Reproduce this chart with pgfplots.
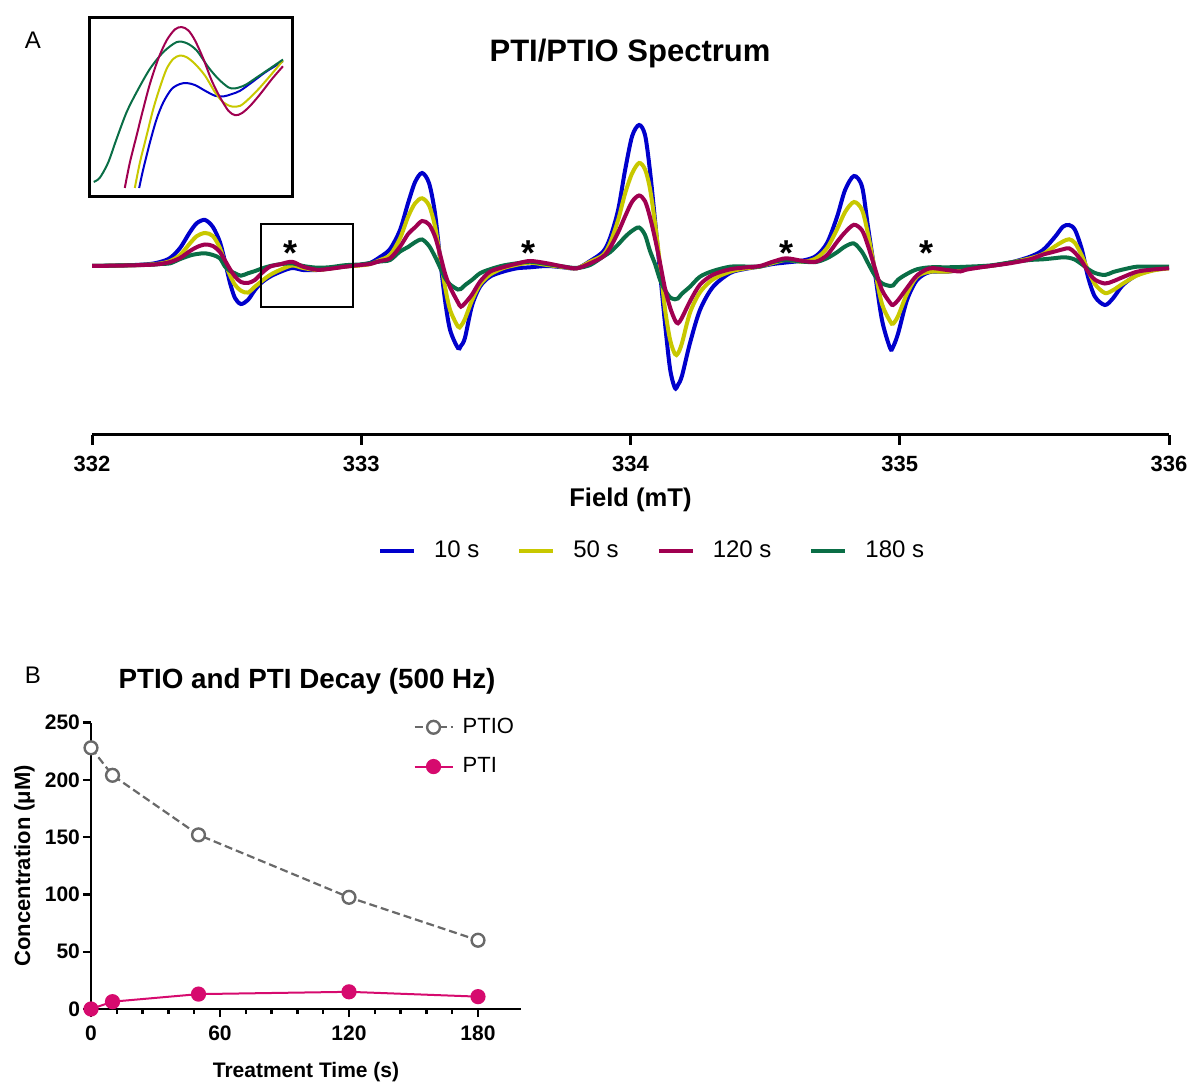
\documentclass[border=0pt]{standalone}
\usepackage{pgfplots}
\pgfplotsset{compat=1.18}
\usepackage{pgfplotstable}
\usepackage{fontspec}
\setmainfont{Liberation Sans}

\definecolor{c10}{RGB}{0,0,204}
\definecolor{c50}{RGB}{200,200,0}
\definecolor{c120}{RGB}{160,0,80}
\definecolor{c180}{RGB}{10,110,70}
\definecolor{ptio}{RGB}{105,105,105}
\definecolor{pti}{RGB}{214,10,110}

% field (mT) and signal (arb. units) for the four treatment times
\pgfplotstableread{
F       B      Yel    R      G
332.000 0      0      0      0
332.141 0.8    0.7    0.6    0.8
332.215 2      1.5    1.2    1.2
332.253 4      2.5    2      2
332.290 8      5      4      2.7
332.327 18     11     8      6.9
332.364 34     22.7   15     10.5
332.390 43     30     19     12
332.420 46     33     21.5   12.7
332.449 39     30     20     11
332.475 24     18     14     7.7
332.494 4.3    3      5.5    -0.6
332.513 -17.3  -9.5   -3.3   -5
332.531 -32    -18.8  -10.5  -7.3
332.553 -38    -24.7  -16    -9.7
332.579 -34    -26.6  -17    -7.3
332.605 -24    -20.7  -14    -5.1
332.631 -16.3  -15    -7     -2.5
332.661 -10.7  -9     -0.7   -0.1
332.698 -6     -4     1.7    1.7
332.743 -2     0.5    4.2    2.7
332.784 -4     -2     -0.7   0
332.836 -4     -4     -3.8   -1.7
332.884 -2.3   -2.5   -2.8   -1.2
332.940 -0.5   -0.5   -0.7   0.8
332.995 1      0.5    1      1.5
333.033 3      2      2      3
333.070 9      6      5      4.5
333.107 17     11     7.7    6
333.144 36     27.7   19.3   14.5
333.174 63     49.3   32     19
333.200 84     62.7   38.7   23.8
333.226 93     67.7   45     26.5
333.252 82.7   60.4   41.5   20
333.274 52.7   39.5   29.3   9.3
333.292 9.3    10.5   12.5   -1
333.311 -34    -20.5  -7.3   -12
333.330 -64    -44    -21.3  -18.5
333.359 -82    -60.5  -36.3  -23.5
333.370 -80    -60    -40.7  -23
333.385 -72    -53    -37.3  -19.2
333.411 -40    -34.7  -28.7  -14
333.441 -20.7  -18.7  -15.7  -7.3
333.478 -10.7  -8.7   -5.7   -3.3
333.526 -5.7   -2.3   -1.3   0.4
333.578 -2.3   1.2    2.4    2.7
333.627 -1.3   3.3    5      4.3
333.690 0      1      2.7    2
333.749 -1.3   -1     -0.5   -0.5
333.801 -2.3   -2.3   -2.3   -2
333.850 5      4.3    2.7    1
333.898 14.3   11     9.3    9.3
333.924 28     22.7   18.2   13.8
333.954 56     46     33.6   21.5
333.980 96     72.6   49.7   29.2
334.006 129.8  92.7   64.3   35.2
334.032 141    103    70.5   38.5
334.054 131    96.6   64.8   31
334.072 96     77.8   49.3   15.4
334.091 46     43     27.5   2.1
334.110 -7     0.7    2.7    -14
334.128 -57    -42.6  -22.3  -24
334.147 -103   -73.8  -41.5  -31.4
334.165 -122   -88    -54    -33.3
334.176 -119   -87.5  -57.3  -32.5
334.191 -110   -77.3  -51.8  -27.7
334.221 -77    -46.7  -35.3  -20.7
334.258 -44    -26.3  -18.7  -10.7
334.306 -21    -13.4  -8.8   -5
334.370 -7     -5.7   -3.3   -0.7
334.425 -3     -2.5   -1.5   -0.5
334.481 -0.5   -0.5   0      -0.5
334.529 2      3      4.3    4
334.578 3.5    6      7.7    6
334.641 5.5    4.3    5      4.3
334.689 10     7.7    4.3    4
334.730 23     18     11     7.8
334.767 49     36.7   24     13.7
334.797 76     54     33.7   19.5
334.830 90     64     41.2   22.5
334.860 79.3   56     35.6   14
334.882 39.3   32     20.3   3
334.908 -7.3   -4.6   -2.4   -9.7
334.934 -54    -38    -24    -17.3
334.964 -82    -55.2  -36.7  -20
334.975 -81    -57.7  -39    -19.5
334.994 -67.3  -49.9  -34.1  -13.6
335.027 -34    -27.6  -21.9  -7.9
335.064 -14    -10.7  -9.4   -3.3
335.112 -6     -5.7   -2.3   -1.3
335.175 -5.7   -5.7   -4     -1.3
335.224 -4     -4     -5.5   -1
335.250 -2.3   -2.3   -3.5   -0.7
335.335 0      0      0      0.5
335.409 3.3    3.3    2.7    3.5
335.484 9.3    7.7    6.7    6
335.532 16     12     11.4   6.7
335.577 29.3   19.8   14.6   7.9
335.606 39.3   24.5   16.7   8.7
335.629 41     26.7   17.7   8.2
335.651 36     23     13.2   6.3
335.677 16     10     4.4    1.6
335.699 -10.7  -4     -5.5   -3
335.725 -30.7  -18.2  -13.7  -7
335.762 -39    -27    -17.5  -9
335.792 -32.3  -24.2  -15.3  -6.1
335.829 -19    -17.6  -11.1  -3.5
335.881 -9     -9.5   -5.7   -0.7
335.941 -4     -4.5   -3.5   -0.7
336.000 -1.7   -2.3   -2.3   -0.7
}\spectrum

\pgfplotstableread{
t   ptio  pti
0   228   0
10  204   6.4
50  152   13
120 97.5  15
180 60    10.8
}\decay

\begin{document}
\begin{tikzpicture}
\path[use as bounding box] (0,0) rectangle (597pt,541.5pt);

% ---------------- panel A: spectrum
\begin{axis}[
  at={(46pt,324pt)}, anchor=south west,
  scale only axis, width=538.5pt, height=162.5pt,
  xmin=332, xmax=336, ymin=-169, ymax=156,
  axis x line=bottom, axis y line=none,
  axis line style={-, line width=1.5pt},
  xtick={332,333,334,335,336},
  tick align=outside, major tick length=5pt,
  major tick style={black, line width=1.5pt},
  /pgf/number format/assume math mode=true,
  xticklabel style={font=\bfseries\fontsize{11}{12}\selectfont, yshift=-2pt},
  xlabel={Field (mT)},
  xlabel style={font=\bfseries\fontsize{12.8}{15}\selectfont, at={(rel axis cs:0.5,-0.2)}, anchor=center},
  legend columns=4,
  legend style={draw=none, fill=none, at={(rel axis cs:0.521,-0.357)}, anchor=center,
    font=\fontsize{12}{14}\selectfont,
    /tikz/every odd column/.append style={column sep=7pt},
    /tikz/every even column/.append style={column sep=17pt}},
  legend image code/.code={\draw (0pt,0pt) -- (17pt,0pt);},
]
\addplot[c10, line width=2pt, smooth] table[x=F, y=B] {\spectrum};
\addplot[c50, line width=2pt, smooth] table[x=F, y=Yel] {\spectrum};
\addplot[c180, line width=2pt, smooth, forget plot] table[x=F, y=G] {\spectrum};
\addplot[c120, line width=2pt, smooth] table[x=F, y=R] {\spectrum};
\addlegendimage{c180, line width=2pt}
\legend{10 s, 50 s, 120 s, 180 s}

\draw[line width=0.75pt] (axis cs:332.628,42) rectangle (axis cs:332.969,-41);
\node[font=\bfseries\fontsize{18}{18}\selectfont, anchor=north, inner sep=0pt] at (axis cs:332.739,26) {*};
\node[font=\bfseries\fontsize{18}{18}\selectfont, anchor=north, inner sep=0pt] at (axis cs:333.623,26) {*};
\node[font=\bfseries\fontsize{18}{18}\selectfont, anchor=north, inner sep=0pt] at (axis cs:334.581,26) {*};
\node[font=\bfseries\fontsize{18}{18}\selectfont, anchor=north, inner sep=0pt] at (axis cs:335.098,26) {*};
\end{axis}

% ---------------- inset
\begin{axis}[
  at={(44.5pt,443pt)}, anchor=south west,
  scale only axis, width=101.5pt, height=89.5pt,
  xmin=28, xmax=635, ymin=28, ymax=562, y dir=reverse,
  xtick=\empty, ytick=\empty,
  axis line style={line width=1.5pt},
]
\addplot[c10, line width=1pt, smooth] coordinates {
 (178,535) (190,480) (210,400) (230,330) (250,280) (275,240) (300,225) (320,222)
 (345,228) (375,245) (405,260) (430,262) (455,255) (480,245) (515,220) (555,190)
 (590,168) (608,157)};
\addplot[c50, line width=1pt, smooth] coordinates {
 (165,535) (180,460) (200,380) (220,300) (240,235) (260,180) (280,150) (300,140)
 (320,145) (345,165) (375,200) (405,250) (430,280) (455,292) (480,290) (505,270)
 (535,240) (570,200) (608,155)};
\addplot[c180, line width=1pt, smooth] coordinates {
 (42,517) (60,505) (85,460) (110,390) (140,310) (170,250) (210,180) (250,130)
 (290,100) (320,103) (350,125) (385,175) (415,210) (445,235) (465,238) (495,228)
 (530,205) (570,178) (608,152)};
\addplot[c120, line width=1pt, smooth] coordinates {
 (135,535) (150,460) (170,380) (190,300) (210,225) (235,150) (260,95) (285,62)
 (305,55) (325,65) (345,95) (370,150) (395,215) (420,265) (445,305) (465,318)
 (485,312) (510,290) (540,255) (575,210) (608,172)};
\end{axis}

% ---------------- panel B: decay
\begin{axis}[
  at={(45.5pt,37pt)}, anchor=south west,
  scale only axis, width=215pt, height=143.2pt,
  xmin=0, xmax=200, ymin=0, ymax=250,
  axis lines=left, axis line style={-, line width=1.2pt},
  xtick={0,60,120,180}, minor x tick num=4,
  ytick={0,50,100,150,200,250},
  tick align=outside, major tick length=4pt, minor tick length=2.5pt,
  major tick style={black, line width=1.2pt},
  minor tick style={black, line width=1.2pt},
  /pgf/number format/assume math mode=true,
  ticklabel style={font=\bfseries\fontsize{10.5}{12}\selectfont},
  yticklabel style={xshift=2pt},
  xticklabel style={yshift=-1pt},
  clip=false,
  xlabel={Treatment Time (s)},
  xlabel style={font=\bfseries\fontsize{10.5}{12}\selectfont, at={(rel axis cs:0.5,-0.22)}, anchor=center},
  ylabel={Concentration (μM)},
  ylabel style={font=\bfseries\fontsize{11}{13}\selectfont, at={(rel axis cs:-0.155,0.5)}, anchor=center},
  legend cell align=left,
  legend style={draw=none, fill=none, at={(rel axis cs:0.735,1.045)}, anchor=north west,
    font=\fontsize{11}{13}\selectfont, row sep=6.5pt,
    /tikz/every odd column/.append style={column sep=2.5pt}},
  legend image code/.code={\draw[mark repeat=2, mark phase=2] plot coordinates {(0pt,0pt) (9.5pt,0pt) (19pt,0pt)};},
]
\addplot[ptio, line width=1.1pt, dash pattern=on 4pt off 2pt, mark=*, mark size=3.2pt,
  mark options={solid, fill=white, draw=ptio, line width=1.2pt}] table[x=t, y=ptio] {\decay};
\addplot[pti, line width=1pt, mark=*, mark size=3.3pt] table[x=t, y=pti] {\decay};
\legend{PTIO, PTI}
\end{axis}

% ---------------- titles and panel letters
\node[font=\bfseries\fontsize{15.5}{18}\selectfont] at (315pt,515pt) {PTI/PTIO Spectrum};
\node[font=\bfseries\fontsize{13.9}{16}\selectfont] at (153.5pt,201pt) {PTIO and PTI Decay (500 Hz)};
\node[font=\fontsize{12}{14}\selectfont] at (16.5pt,521.5pt) {A};
\node[font=\fontsize{12}{14}\selectfont] at (16.5pt,204pt) {B};
\end{tikzpicture}
\end{document}
